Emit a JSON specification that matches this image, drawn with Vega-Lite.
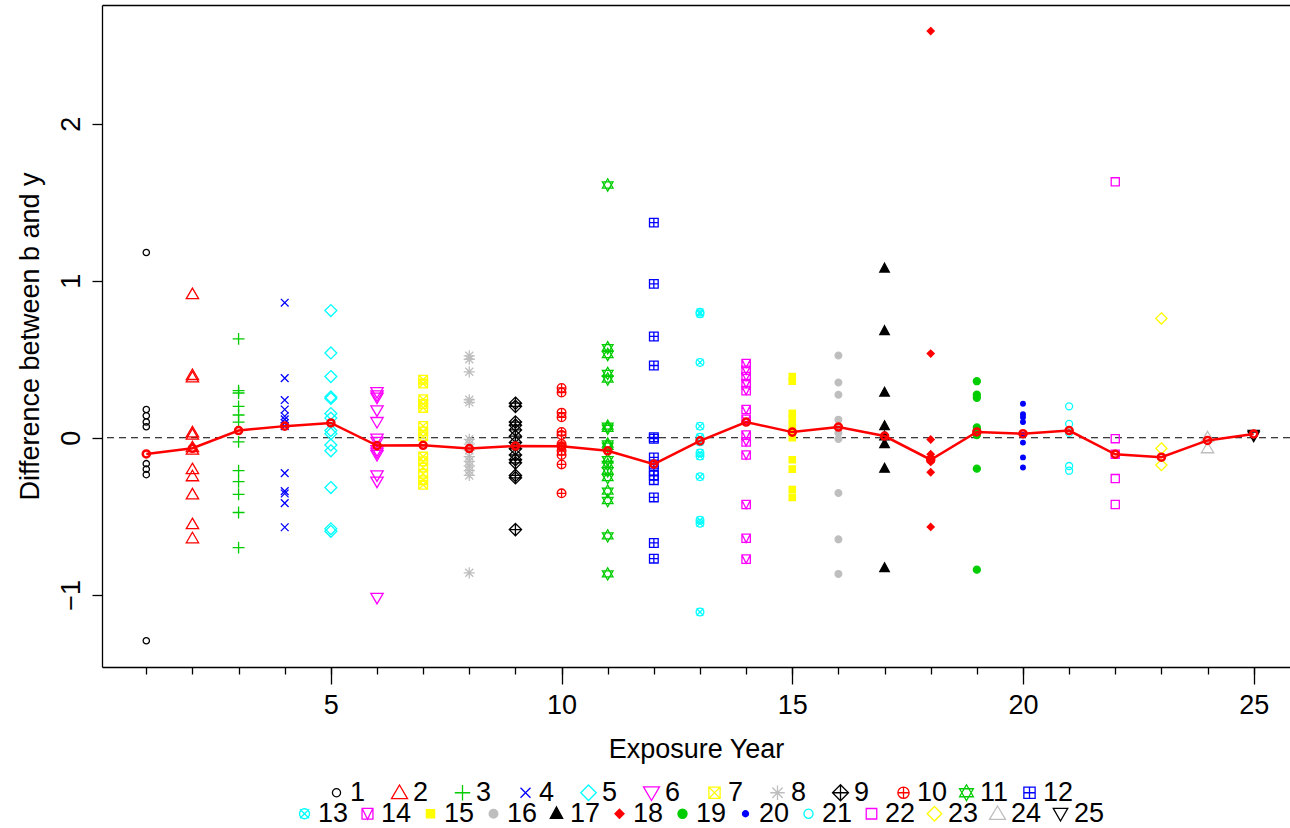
{
  "$schema": "https://vega.github.io/schema/vega-lite/v6.json",
  "autosize": "none",
  "width": 1188,
  "height": 662,
  "padding": {"left": 102, "top": 5, "right": 0, "bottom": 161},
  "background": "white",
  "config": {
    "font": "Liberation Sans",
    "view": {"stroke": null},
    "axis": {"grid": false, "labelFont": "Liberation Sans", "titleFont": "Liberation Sans", "labelColor": "black", "titleColor": "black", "tickColor": "black", "domainColor": "black", "tickWidth": 1.3, "domainWidth": 1.3, "labelFontSize": 27, "titleFontSize": 27, "titleFontWeight": "normal"},
    "legend": {"labelFont": "Liberation Sans", "labelColor": "black"}
  },
  "datasets": {
    "pts": [
      {"g":1,"v":1.18},{"g":1,"v":0.18},{"g":1,"v":0.14},{"g":1,"v":0.10},{"g":1,"v":0.07},{"g":1,"v":-0.165},{"g":1,"v":-0.20},{"g":1,"v":-0.235},{"g":1,"v":-1.293},
      {"g":2,"v":0.915},{"g":2,"v":0.40},{"g":2,"v":0.385},{"g":2,"v":0.035},{"g":2,"v":0.02},{"g":2,"v":-0.06},{"g":2,"v":-0.075},{"g":2,"v":-0.20},{"g":2,"v":-0.245},{"g":2,"v":-0.36},{"g":2,"v":-0.55},{"g":2,"v":-0.64},
      {"g":3,"v":0.63},{"g":3,"v":0.30},{"g":3,"v":0.285},{"g":3,"v":0.20},{"g":3,"v":0.145},{"g":3,"v":0.10},{"g":3,"v":-0.026},{"g":3,"v":-0.21},{"g":3,"v":-0.28},{"g":3,"v":-0.36},{"g":3,"v":-0.476},{"g":3,"v":-0.70},
      {"g":4,"v":0.86},{"g":4,"v":0.38},{"g":4,"v":0.24},{"g":4,"v":0.18},{"g":4,"v":0.137},{"g":4,"v":0.117},{"g":4,"v":0.094},{"g":4,"v":0.074},{"g":4,"v":-0.225},{"g":4,"v":-0.34},{"g":4,"v":-0.355},{"g":4,"v":-0.416},{"g":4,"v":-0.57},
      {"g":5,"v":0.81},{"g":5,"v":0.54},{"g":5,"v":0.39},{"g":5,"v":0.26},{"g":5,"v":0.25},{"g":5,"v":0.154},{"g":5,"v":0.125},{"g":5,"v":0.046},{"g":5,"v":0.026},{"g":5,"v":-0.046},{"g":5,"v":-0.083},{"g":5,"v":-0.317},{"g":5,"v":-0.58},{"g":5,"v":-0.596},
      {"g":6,"v":0.29},{"g":6,"v":0.27},{"g":6,"v":0.255},{"g":6,"v":0.174},{"g":6,"v":0.10},{"g":6,"v":-0.006},{"g":6,"v":-0.026},{"g":6,"v":-0.08},{"g":6,"v":-0.095},{"g":6,"v":-0.11},{"g":6,"v":-0.24},{"g":6,"v":-0.28},{"g":6,"v":-1.02},
      {"g":7,"v":0.37},{"g":7,"v":0.345},{"g":7,"v":0.245},{"g":7,"v":0.215},{"g":7,"v":0.19},{"g":7,"v":0.075},{"g":7,"v":0.04},{"g":7,"v":0.01},{"g":7,"v":-0.12},{"g":7,"v":-0.15},{"g":7,"v":-0.19},{"g":7,"v":-0.23},{"g":7,"v":-0.27},{"g":7,"v":-0.30},
      {"g":8,"v":0.522},{"g":8,"v":0.50},{"g":8,"v":0.42},{"g":8,"v":0.242},{"g":8,"v":0.225},{"g":8,"v":-0.01},{"g":8,"v":-0.04},{"g":8,"v":-0.08},{"g":8,"v":-0.12},{"g":8,"v":-0.15},{"g":8,"v":-0.18},{"g":8,"v":-0.21},{"g":8,"v":-0.24},{"g":8,"v":-0.86},
      {"g":9,"v":0.22},{"g":9,"v":0.20},{"g":9,"v":0.10},{"g":9,"v":0.08},{"g":9,"v":0.05},{"g":9,"v":0.01},{"g":9,"v":-0.03},{"g":9,"v":-0.07},{"g":9,"v":-0.11},{"g":9,"v":-0.14},{"g":9,"v":-0.16},{"g":9,"v":-0.24},{"g":9,"v":-0.255},{"g":9,"v":-0.585},
      {"g":10,"v":0.317},{"g":10,"v":0.288},{"g":10,"v":0.16},{"g":10,"v":0.13},{"g":10,"v":0.037},{"g":10,"v":0.017},{"g":10,"v":-0.04},{"g":10,"v":-0.054},{"g":10,"v":-0.083},{"g":10,"v":-0.11},{"g":10,"v":-0.17},{"g":10,"v":-0.354},
      {"g":11,"v":1.61},{"g":11,"v":0.573},{"g":11,"v":0.53},{"g":11,"v":0.41},{"g":11,"v":0.374},{"g":11,"v":0.074},{"g":11,"v":0.06},{"g":11,"v":-0.04},{"g":11,"v":-0.054},{"g":11,"v":-0.14},{"g":11,"v":-0.17},{"g":11,"v":-0.21},{"g":11,"v":-0.254},{"g":11,"v":-0.34},{"g":11,"v":-0.40},{"g":11,"v":-0.625},{"g":11,"v":-0.867},
      {"g":12,"v":1.37},{"g":12,"v":0.98},{"g":12,"v":0.645},{"g":12,"v":0.46},{"g":12,"v":0.003},{"g":12,"v":-0.006},{"g":12,"v":-0.125},{"g":12,"v":-0.17},{"g":12,"v":-0.21},{"g":12,"v":-0.24},{"g":12,"v":-0.27},{"g":12,"v":-0.38},{"g":12,"v":-0.67},{"g":12,"v":-0.77},
      {"g":13,"v":0.80},{"g":13,"v":0.79},{"g":13,"v":0.48},{"g":13,"v":0.074},{"g":13,"v":0.003},{"g":13,"v":-0.026},{"g":13,"v":-0.097},{"g":13,"v":-0.117},{"g":13,"v":-0.248},{"g":13,"v":-0.525},{"g":13,"v":-0.545},{"g":13,"v":-1.11},
      {"g":14,"v":0.473},{"g":14,"v":0.43},{"g":14,"v":0.39},{"g":14,"v":0.345},{"g":14,"v":0.30},{"g":14,"v":0.18},{"g":14,"v":0.117},{"g":14,"v":0.017},{"g":14,"v":-0.026},{"g":14,"v":-0.11},{"g":14,"v":-0.425},{"g":14,"v":-0.64},{"g":14,"v":-0.773},
      {"g":15,"v":0.39},{"g":15,"v":0.36},{"g":15,"v":0.155},{"g":15,"v":0.12},{"g":15,"v":0.08},{"g":15,"v":0.04},{"g":15,"v":0.0},{"g":15,"v":-0.14},{"g":15,"v":-0.20},{"g":15,"v":-0.33},{"g":15,"v":-0.38},
      {"g":16,"v":0.524},{"g":16,"v":0.352},{"g":16,"v":0.274},{"g":16,"v":0.115},{"g":16,"v":0.072},{"g":16,"v":0.03},{"g":16,"v":-0.008},{"g":16,"v":-0.352},{"g":16,"v":-0.647},{"g":16,"v":-0.867},
      {"g":17,"v":1.078},{"g":17,"v":0.68},{"g":17,"v":0.288},{"g":17,"v":0.074},{"g":17,"v":0.009},{"g":17,"v":-0.04},{"g":17,"v":-0.197},{"g":17,"v":-0.83},
      {"g":18,"v":2.59},{"g":18,"v":0.536},{"g":18,"v":-0.011},{"g":18,"v":-0.105},{"g":18,"v":-0.125},{"g":18,"v":-0.14},{"g":18,"v":-0.154},{"g":18,"v":-0.22},{"g":18,"v":-0.568},
      {"g":19,"v":0.36},{"g":19,"v":0.274},{"g":19,"v":0.254},{"g":19,"v":0.066},{"g":19,"v":0.046},{"g":19,"v":0.017},{"g":19,"v":-0.197},{"g":19,"v":-0.84},
      {"g":20,"v":0.217},{"g":20,"v":0.15},{"g":20,"v":0.131},{"g":20,"v":0.10},{"g":20,"v":0.017},{"g":20,"v":-0.031},{"g":20,"v":-0.125},{"g":20,"v":-0.19},
      {"g":21,"v":0.20},{"g":21,"v":0.088},{"g":21,"v":0.031},{"g":21,"v":-0.18},{"g":21,"v":-0.21},
      {"g":22,"v":1.63},{"g":22,"v":-0.006},{"g":22,"v":-0.105},{"g":22,"v":-0.26},{"g":22,"v":-0.425},
      {"g":23,"v":0.76},{"g":23,"v":-0.068},{"g":23,"v":-0.174},
      {"g":24,"v":0.003},{"g":24,"v":-0.068},
      {"g":25,"v":0.02},{"g":25,"v":0.01}
    ],
    "means": [
      {"g":1,"m":-0.103},{"g":2,"m":-0.067},{"g":3,"m":0.046},{"g":4,"m":0.074},{"g":5,"m":0.094},
      {"g":6,"m":-0.05},{"g":7,"m":-0.048},{"g":8,"m":-0.069},{"g":9,"m":-0.053},{"g":10,"m":-0.054},
      {"g":11,"m":-0.083},{"g":12,"m":-0.168},{"g":13,"m":-0.02},{"g":14,"m":0.10},{"g":15,"m":0.036},
      {"g":16,"m":0.068},{"g":17,"m":0.011},{"g":18,"m":-0.14},{"g":19,"m":0.037},{"g":20,"m":0.026},
      {"g":21,"m":0.046},{"g":22,"m":-0.105},{"g":23,"m":-0.124},{"g":24,"m":-0.017},{"g":25,"m":0.024}
    ],
    "ref": [{"r": 0}]
  },
  "resolve": {
    "axis": {"x": "independent", "y": "independent"},
    "scale": {"shape": "independent", "stroke": "independent", "fill": "independent"},
    "legend": {"shape": "independent", "stroke": "independent", "fill": "independent"}
  },
  "layer": [
    {
      "data": {"name": "ref"},
      "mark": {"type": "rule", "strokeDash": [7, 5], "color": "black", "strokeWidth": 1},
      "encoding": {
        "y": {"field": "r", "type": "quantitative", "scale": {"domain": [-1.46, 2.756], "nice": false, "zero": false}, "axis": null}
      }
    },
    {
      "data": {"name": "pts"},
      "transform": [{"filter": "datum.g <= 12"}],
      "mark": {"type": "point", "size": 196, "strokeWidth": 1.3, "opacity": 1},
      "encoding": {
        "x": {"field": "g", "type": "quantitative", "scale": {"domain": [0.04, 25.787], "nice": false, "zero": false},
              "axis": {"values": [5, 10, 15, 20, 25], "tickSize": 17, "labelPadding": 8, "title": "Exposure Year", "titlePadding": 18, "domain": true, "labelFlush": false}},
        "y": {"field": "v", "type": "quantitative",
              "axis": {"values": [-1, 0, 1, 2], "tickSize": 10, "labelAngle": -90, "labelAlign": "center", "labelBaseline": "alphabetic", "labelPadding": 13, "title": "Difference between b and y", "titlePadding": 13, "domain": true}},
        "shape": {"field": "g", "type": "ordinal",
          "scale": {"domain": [1,2,3,4,5,6,7,8,9,10,11,12], "range": [
            "M0.45,0A0.45,0.45,0,1,1,-0.45,0A0.45,0.45,0,1,1,0.45,0Z",
            "M0,-0.85L0.88,0.65L-0.88,0.65Z",
            "M-0.85,0L0.85,0M0,-0.85L0,0.85",
            "M-0.55,-0.55L0.55,0.55M-0.55,0.55L0.55,-0.55",
            "M0,-0.85L0.85,0L0,0.85L-0.85,0Z",
            "M0,0.85L0.88,-0.65L-0.88,-0.65Z",
            "M-0.62,-0.62L0.62,-0.62L0.62,0.62L-0.62,0.62ZM-0.62,-0.62L0.62,0.62M-0.62,0.62L0.62,-0.62",
            "M-0.8,0L0.8,0M0,-0.8L0,0.8M-0.57,-0.57L0.57,0.57M-0.57,0.57L0.57,-0.57",
            "M0,-0.88L0.88,0L0,0.88L-0.88,0ZM-0.88,0L0.88,0M0,-0.88L0,0.88",
            "M0.62,0A0.62,0.62,0,1,1,-0.62,0A0.62,0.62,0,1,1,0.62,0ZM-0.62,0L0.62,0M0,-0.62L0,0.62",
            "M0,-0.88L0.76,0.44L-0.76,0.44ZM0,0.88L0.76,-0.44L-0.76,-0.44Z",
            "M-0.62,-0.62L0.62,-0.62L0.62,0.62L-0.62,0.62ZM-0.62,0L0.62,0M0,-0.62L0,0.62"]},
          "legend": {"orient": "none", "legendX": 221, "legendY": 774, "direction": "horizontal", "columns": 12, "gridAlign": "all", "columnPadding": 5, "title": null, "labelFontSize": 27, "labelOffset": 0, "symbolSize": 330, "symbolStrokeWidth": 1.3, "padding": 0}},
        "stroke": {"field": "g", "type": "ordinal",
          "scale": {"domain": [1,2,3,4,5,6,7,8,9,10,11,12], "range": ["#000000","#FF0000","#00CD00","#0000FF","#00FFFF","#FF00FF","#FFFF00","#BEBEBE","#000000","#FF0000","#00CD00","#0000FF"]}},
        "fill": {"field": "g", "type": "ordinal",
          "scale": {"domain": [1,2,3,4,5,6,7,8,9,10,11,12], "range": ["transparent","transparent","transparent","transparent","transparent","transparent","transparent","transparent","transparent","transparent","transparent","transparent"]}}
      }
    },
    {
      "data": {"name": "pts"},
      "transform": [{"filter": "datum.g >= 13"}],
      "mark": {"type": "point", "size": 196, "strokeWidth": 1.3, "opacity": 1},
      "encoding": {
        "x": {"field": "g", "type": "quantitative",
              "axis": {"orient": "top", "ticks": false, "labels": false, "title": null, "domain": true}},
        "y": {"field": "v", "type": "quantitative", "axis": null},
        "shape": {"field": "g", "type": "ordinal",
          "scale": {"domain": [13,14,15,16,17,18,19,20,21,22,23,24,25], "range": [
            "M0.55,0A0.55,0.55,0,1,1,-0.55,0A0.55,0.55,0,1,1,0.55,0ZM-0.5,-0.5L0.5,0.5M-0.5,0.5L0.5,-0.5",
            "M-0.6,-0.6L0.6,-0.6L0.6,0.6L-0.6,0.6ZM-0.6,-0.6L0,0.6L0.6,-0.6",
            "M-0.45,-0.45L0.45,-0.45L0.45,0.45L-0.45,0.45Z",
            "M0.48,0A0.48,0.48,0,1,1,-0.48,0A0.48,0.48,0,1,1,0.48,0Z",
            "M0,-0.75L0.68,0.5L-0.68,0.5Z",
            "M0,-0.5L0.5,0L0,0.5L-0.5,0Z",
            "M0.5,0A0.5,0.5,0,1,1,-0.5,0A0.5,0.5,0,1,1,0.5,0Z",
            "M0.33,0A0.33,0.33,0,1,1,-0.33,0A0.33,0.33,0,1,1,0.33,0Z",
            "M0.5,0A0.5,0.5,0,1,1,-0.5,0A0.5,0.5,0,1,1,0.5,0Z",
            "M-0.58,-0.58L0.58,-0.58L0.58,0.58L-0.58,0.58Z",
            "M0,-0.8L0.8,0L0,0.8L-0.8,0Z",
            "M0,-0.85L0.88,0.62L-0.88,0.62Z",
            "M0,0.8L0.8,-0.6L-0.8,-0.6Z"]},
          "legend": {"orient": "none", "legendX": 189, "legendY": 795, "direction": "horizontal", "columns": 13, "gridAlign": "all", "columnPadding": 5, "title": null, "labelFontSize": 27, "labelOffset": 0, "symbolSize": 330, "symbolStrokeWidth": 1.3, "padding": 0}},
        "stroke": {"field": "g", "type": "ordinal",
          "scale": {"domain": [13,14,15,16,17,18,19,20,21,22,23,24,25], "range": ["#00FFFF","#FF00FF","#FFFF00","#BEBEBE","#000000","#FF0000","#00CD00","#0000FF","#00FFFF","#FF00FF","#FFFF00","#BEBEBE","#000000"]}},
        "fill": {"field": "g", "type": "ordinal",
          "scale": {"domain": [13,14,15,16,17,18,19,20,21,22,23,24,25], "range": ["transparent","transparent","#FFFF00","#BEBEBE","#000000","#FF0000","#00CD00","#0000FF","transparent","transparent","transparent","transparent","transparent"]}}
      }
    },
    {
      "data": {"name": "means"},
      "mark": {"type": "line", "color": "#FF0000", "strokeWidth": 2.5},
      "encoding": {
        "x": {"field": "g", "type": "quantitative",
              "axis": {"values": [1,2,3,4,5,6,7,8,9,10,11,12,13,14,15,16,17,18,19,20,21,22,23,24,25], "tickSize": 7, "labels": false, "title": null, "domain": false}},
        "y": {"field": "m", "type": "quantitative", "axis": null}
      }
    },
    {
      "data": {"name": "means"},
      "mark": {"type": "point", "shape": "circle", "size": 50, "filled": false, "color": "#FF0000", "strokeWidth": 2.5, "opacity": 1},
      "encoding": {
        "x": {"field": "g", "type": "quantitative", "axis": null},
        "y": {"field": "m", "type": "quantitative", "axis": null}
      }
    }
  ]
}
